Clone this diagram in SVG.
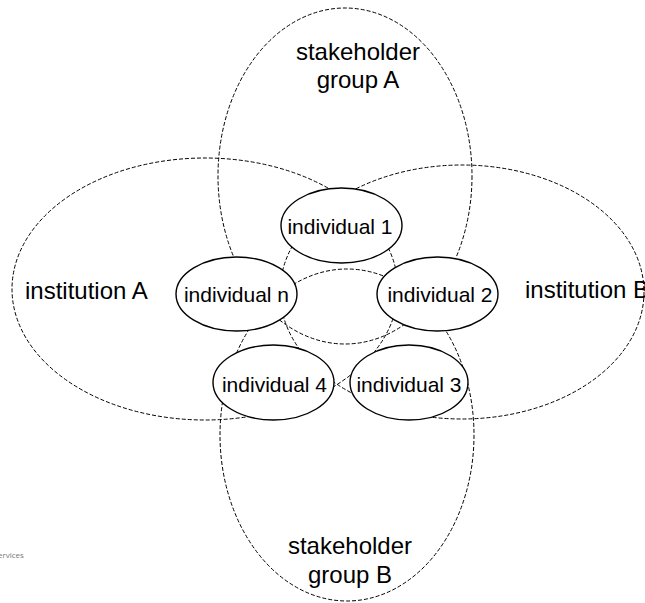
<svg xmlns="http://www.w3.org/2000/svg" width="645" height="603" viewBox="0 0 645 603">
<style>
.grp{fill:none;stroke:#000;stroke-width:1;stroke-dasharray:4 2}
.ind{fill:#fff;stroke:#000;stroke-width:1.4}
.big{font-family:"Liberation Sans",Arial,sans-serif;font-size:24px;fill:#000}
.lbl{font-family:"Liberation Sans",Arial,sans-serif;font-size:21px;fill:#000;text-anchor:middle}
</style>
<rect width="645" height="603" fill="#fff"/>
<g id="stakeholder-group-A">
<ellipse class="grp" cx="345" cy="176" rx="127" ry="168"/>
<text class="big" x="358" y="60" text-anchor="middle">stakeholder</text>
<text class="big" x="358" y="88" text-anchor="middle">group A</text>
</g>
<g id="stakeholder-group-B">
<ellipse class="grp" cx="347" cy="435" rx="127" ry="166"/>
<text class="big" x="350" y="554" text-anchor="middle">stakeholder</text>
<text class="big" x="350" y="583" text-anchor="middle">group B</text>
</g>
<g id="institution-A">
<ellipse class="grp" cx="205" cy="289" rx="193" ry="131"/>
<text class="big" x="25" y="299">institution A</text>
</g>
<g id="institution-B">
<ellipse class="grp" cx="462" cy="292" rx="182" ry="127"/>
<text class="big" x="525" y="298">institution B</text>
</g>
<g id="individual-1">
<ellipse class="ind" cx="341.5" cy="225.5" rx="60.5" ry="37.5"/>
<text class="lbl" x="340" y="234">individual 1</text>
</g>
<g id="individual-n">
<ellipse class="ind" cx="236.5" cy="294" rx="60.5" ry="37"/>
<text class="lbl" x="236.5" y="302">individual n</text>
</g>
<g id="individual-2">
<ellipse class="ind" cx="437.5" cy="294" rx="60.5" ry="37"/>
<text class="lbl" x="440" y="302">individual 2</text>
</g>
<g id="individual-4">
<ellipse class="ind" cx="273.5" cy="382.5" rx="60.5" ry="37.5"/>
<text class="lbl" x="274.5" y="392">individual 4</text>
</g>
<g id="individual-3">
<ellipse class="ind" cx="409" cy="382.5" rx="59" ry="37.5"/>
<text class="lbl" x="409" y="392">individual 3</text>
</g>
<g id="connectors"></g>
<text x="-2" y="558" font-family="'Open Sans','Liberation Sans',sans-serif" font-size="8" fill="#777">ervices</text>
</svg>
